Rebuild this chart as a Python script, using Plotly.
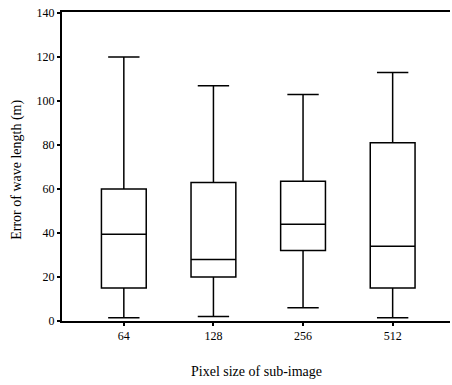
import plotly.graph_objects as go

categories = ["64", "128", "256", "512"]
lower_whisker = [1.5, 2.0, 6.0, 1.5]
q1_values = [15.0, 20.0, 32.0, 15.0]
median_values = [39.5, 28.0, 44.0, 34.0]
q3_values = [60.0, 63.0, 63.5, 81.0]
upper_whisker = [120.0, 107.0, 103.0, 113.0]
y_ticks = [0, 20, 40, 60, 80, 100, 120, 140]

font_family = "Liberation Serif"

fig = go.Figure()
fig.add_trace(go.Box(
    x=categories,
    q1=q1_values,
    median=median_values,
    q3=q3_values,
    lowerfence=lower_whisker,
    upperfence=upper_whisker,
    fillcolor="rgba(255,255,255,0)",
    line=dict(color="black", width=1.5),
    whiskerwidth=0.7,
    width=0.5,
    boxpoints=False,
    showlegend=False,
    hoverinfo="skip",
))

fig.update_layout(
    width=452, height=385,
    margin=dict(l=62, r=2, t=12, b=64, autoexpand=False),
    paper_bgcolor="white", plot_bgcolor="white",
    font=dict(family=font_family, color="black", size=12),
    xaxis=dict(
        type="category",
        categoryorder="array", categoryarray=categories,
        range=[-0.69, 3.64],
        automargin=False,
        showline=True, linecolor="black", linewidth=2,
        mirror=True,
        ticks="outside", ticklen=3, tickwidth=2, tickcolor="black",
        showgrid=False, zeroline=False,
        tickfont=dict(family=font_family, size=12, color="black"),
    ),
    yaxis=dict(
        range=[0, 140.5],
        tickvals=y_ticks,
        automargin=False,
        showline=True, linecolor="black", linewidth=2,
        ticks="outside", ticklen=3, tickwidth=2, tickcolor="black",
        showgrid=False, zeroline=False,
        tickfont=dict(family=font_family, size=12, color="black"),
    ),
    annotations=[
        dict(text="Pixel size of sub-image", xref="paper", yref="paper",
             x=0.5, y=-0.165, xanchor="center", yanchor="middle",
             showarrow=False, font=dict(family=font_family, size=14, color="black")),
        dict(text="Error of wave length (m)", xref="paper", yref="paper",
             x=-0.118, y=0.49, xanchor="center", yanchor="middle", textangle=-90,
             showarrow=False, font=dict(family=font_family, size=14, color="black")),
    ],
)

fig.write_html(
    "out.html",
    config={"displayModeBar": False, "staticPlot": True},
    post_script="document.body.style.margin='0px';document.body.style.overflow='hidden';",
)
